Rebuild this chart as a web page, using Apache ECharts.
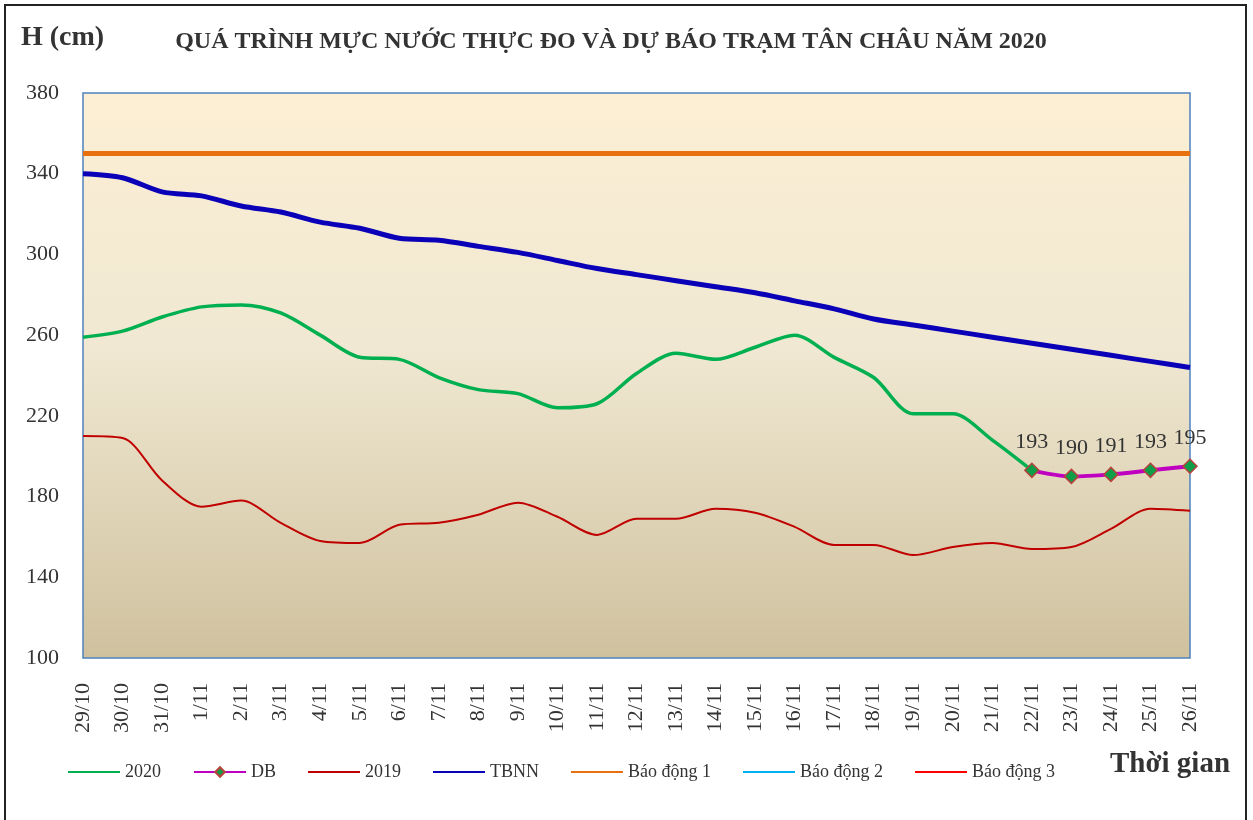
<!DOCTYPE html>
<html>
<head>
<meta charset="utf-8">
<script src="https://cdn.jsdelivr.net/npm/echarts@6/dist/echarts.min.js"></script>
<style>
  html, body { margin: 0; padding: 0; background: #fff; }
  #main { width: 1253px; height: 820px; }
</style>
</head>
<body>
<div id="main"></div>
<script>
// ngày
var days = ['29/10', '30/10', '31/10', '1/11', '2/11', '3/11', '4/11', '5/11', '6/11', '7/11',
  '8/11', '9/11', '10/11', '11/11', '12/11', '13/11', '14/11', '15/11', '16/11', '17/11',
  '18/11', '19/11', '20/11', '21/11', '22/11', '23/11', '24/11', '25/11', '26/11']

// mực nước thực đo 2020
var h2020 = [259, 262, 269, 274, 275, 271, 260, 249, 248, 239,
  233, 231, 224, 226, 241, 251, 248, 254, 260, 249,
  239, 221, 221, 208, 193, null, null, null, null]

// dự báo
var hDB = [null, null, null, null, null, null, null, null, null, null,
  null, null, null, null, null, null, null, null, null, null,
  null, null, null, null, 193, 190, 191, 193, 195]

// cùng kỳ 2019
var h2019 = [210, 209, 188, 175, 178, 167, 158, 157, 166, 167,
  171, 177, 170, 161, 169, 169, 174, 172, 165, 156,
  156, 151, 155, 157, 154, 155, 164, 174, 173]

// trung bình nhiều năm
var hTBNN = [340, 338, 331, 329, 324, 321, 316, 313, 308, 307,
  304, 301, 297, 293, 290, 287, 284, 281, 277, 273,
  268, 265, 262, 259, 256, 253, 250, 247, 244]

// mức báo động
var bd1 = 350
var bd2 = 400
var bd3 = 450

var yTicks = [100, 140, 180, 220, 260, 300, 340, 380]

function flat(v) {
  return days.map(function () { return v })
}

var serif = '"Liberation Serif", "DejaVu Serif", serif'
var lineIcon = 'path://M0,5L52,5L52,7L0,7Z'

var myChart = echarts.init(document.getElementById('main'))

var option = {
  animation: false,
  backgroundColor: '#fff',
  textStyle: { fontFamily: serif },
  title: {
    text: 'QUÁ TRÌNH MỰC NƯỚC THỰC ĐO VÀ DỰ BÁO TRẠM TÂN CHÂU NĂM 2020',
    left: 606,
    textAlign: 'center',
    top: 25,
    textStyle: { fontFamily: serif, fontSize: 24, fontWeight: 'bold', color: '#333' }
  },
  graphic: [
    {
      type: 'rect',
      shape: { x: 5, y: 5, width: 1241, height: 830 },
      style: { fill: 'none', stroke: '#222', lineWidth: 2 },
      silent: true
    },
    {
      type: 'text',
      left: 21,
      top: 24,
      style: { text: 'H (cm)', font: 'bold 28px ' + serif, fill: '#333' }
    },
    {
      type: 'text',
      left: 1110,
      top: 750,
      style: { text: 'Thời gian', font: 'bold 29px ' + serif, fill: '#333' }
    }
  ],
  legend: {
    left: 63,
    top: 758,
    itemWidth: 52,
    itemHeight: 12,
    itemGap: 32,
    textStyle: { fontFamily: serif, fontSize: 18, color: '#333' },
    data: [
      { name: '2020', icon: lineIcon },
      { name: 'DB' },
      { name: '2019', icon: lineIcon },
      { name: 'TBNN', icon: lineIcon },
      { name: 'Báo động 1', icon: lineIcon },
      { name: 'Báo động 2', icon: lineIcon },
      { name: 'Báo động 3', icon: lineIcon }
    ]
  },
  grid: {
    left: 83,
    right: 63,
    top: 93,
    bottom: 162,
    show: true,
    borderColor: '#4F81BD',
    borderWidth: 1.5,
    backgroundColor: new echarts.graphic.LinearGradient(0, 0, 0, 1, [
      { offset: 0, color: '#FCEFD4' },
      { offset: 0.45, color: '#F0E8D2' },
      { offset: 1, color: '#CFC19E' }
    ])
  },
  xAxis: {
    type: 'category',
    data: days,
    boundaryGap: false,
    axisLine: { show: false },
    axisTick: { show: false },
    axisLabel: {
      rotate: 90,
      margin: 25,
      fontFamily: serif,
      fontSize: 22,
      color: '#333',
      interval: 0
    },
    splitLine: { show: false }
  },
  yAxis: {
    type: 'value',
    min: yTicks[0],
    max: yTicks[yTicks.length - 1],
    interval: 40,
    axisLine: { show: false },
    axisTick: { show: false },
    axisLabel: { fontFamily: serif, fontSize: 22, color: '#333', margin: 24 },
    splitLine: { show: false }
  },
  series: [
    {
      name: 'Báo động 2',
      type: 'line',
      data: flat(bd2),
      symbol: 'none',
      clip: true,
      lineStyle: { color: '#00B0F0', width: 2 },
      itemStyle: { color: '#00B0F0' }
    },
    {
      name: 'Báo động 3',
      type: 'line',
      data: flat(bd3),
      symbol: 'none',
      clip: true,
      lineStyle: { color: '#FF0000', width: 2 },
      itemStyle: { color: '#FF0000' }
    },
    {
      name: 'Báo động 1',
      type: 'line',
      data: flat(bd1),
      symbol: 'none',
      lineStyle: { color: '#E8700F', width: 5 },
      itemStyle: { color: '#E8700F' }
    },
    {
      name: 'TBNN',
      type: 'line',
      data: hTBNN,
      smooth: 0.3,
      symbol: 'none',
      lineStyle: { color: '#0A00B8', width: 5 },
      itemStyle: { color: '#0A00B8' }
    },
    {
      name: '2019',
      type: 'line',
      data: h2019,
      smooth: 0.3,
      symbol: 'none',
      lineStyle: { color: '#C00000', width: 2 },
      itemStyle: { color: '#C00000' }
    },
    {
      name: '2020',
      type: 'line',
      data: h2020,
      smooth: 0.3,
      symbol: 'none',
      lineStyle: { color: '#00B050', width: 3.5 },
      itemStyle: { color: '#00B050' }
    },
    {
      name: 'DB',
      type: 'line',
      data: hDB,
      smooth: 0.3,
      symbol: 'diamond',
      symbolSize: 14,
      lineStyle: { color: '#C000C0', width: 4 },
      itemStyle: { color: '#0E9E48', borderColor: '#B8413C', borderWidth: 1.5 },
      label: {
        show: true,
        position: 'top',
        distance: 9,
        fontFamily: serif,
        fontSize: 22,
        color: '#333'
      },
      z: 5
    }
  ]
}

myChart.setOption(option)
</script>
</body>
</html>
